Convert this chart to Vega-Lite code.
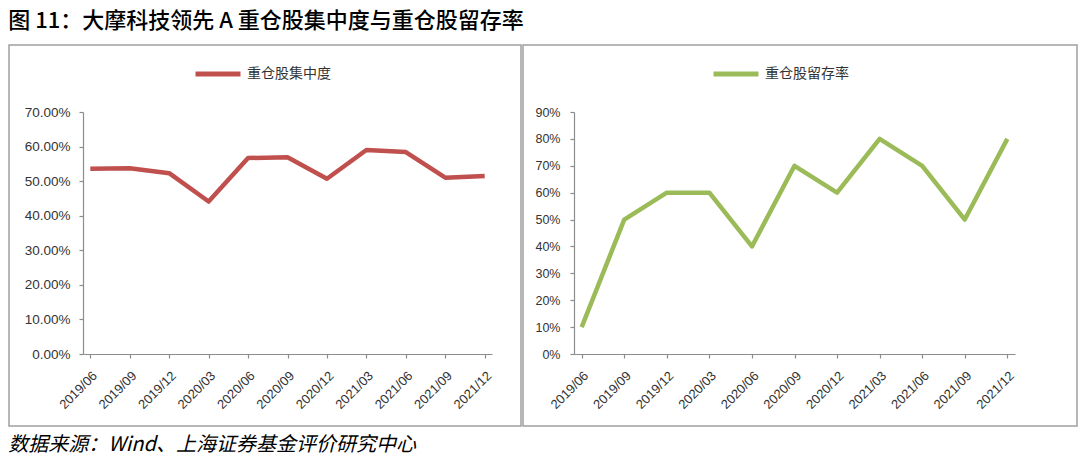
{
  "$schema": "https://vega.github.io/schema/vega-lite/v6.json",
  "padding": {"left": 8, "top": 10, "right": 0, "bottom": 12},
  "background": "#ffffff",
  "datasets": {
    "main": [
      {"date": "2019/06", "conc": 0.536, "ret": 0.10},
      {"date": "2019/09", "conc": 0.537, "ret": 0.50},
      {"date": "2019/12", "conc": 0.523, "ret": 0.60},
      {"date": "2020/03", "conc": 0.441, "ret": 0.60},
      {"date": "2020/06", "conc": 0.567, "ret": 0.40},
      {"date": "2020/09", "conc": 0.569, "ret": 0.70},
      {"date": "2020/12", "conc": 0.507, "ret": 0.60},
      {"date": "2021/03", "conc": 0.590, "ret": 0.80},
      {"date": "2021/06", "conc": 0.584, "ret": 0.70},
      {"date": "2021/09", "conc": 0.510, "ret": 0.50},
      {"date": "2021/12", "conc": 0.515, "ret": 0.80}
    ]
  },
  "title": {
    "text": "图 11：大摩科技领先 A 重仓股集中度与重仓股留存率",
    "anchor": "start",
    "font": "Noto Sans CJK SC",
    "fontSize": 22,
    "fontWeight": 500,
    "color": "#000000",
    "offset": 11
  },
  "vconcat": [
    {
      "title": {
        "text": "数据来源：Wind、上海证券基金评价研究中心",
        "orient": "bottom",
        "anchor": "start",
        "font": "Noto Sans CJK SC",
        "fontSize": 20,
        "fontStyle": "italic",
        "fontWeight": "normal",
        "color": "#000000",
        "offset": 8
      },
      "spacing": 0,
      "resolve": {
        "scale": {"color": "independent", "x": "independent", "y": "independent"},
        "legend": {"color": "independent"}
      },
      "hconcat": [
        {
          "width": 512,
          "height": 381,
          "data": {"name": "main"},
          "mark": {"type": "line", "strokeWidth": 4.5, "strokeJoin": "round"},
          "encoding": {
            "x": {
              "field": "date",
              "type": "ordinal",
              "sort": null,
              "scale": {"type": "point", "range": [74, 483], "padding": 0.185},
              "axis": {"title": null, "offset": -72, "labelAngle": -45, "labelAlign": "right", "labelBaseline": "top", "labelPadding": 11, "labelFontSize": 13}
            },
            "y": {
              "field": "conc",
              "type": "quantitative",
              "scale": {"domain": [0, 0.7], "range": [309, 67], "nice": false, "zero": false},
              "axis": {"title": null, "offset": -74, "values": [0, 0.1, 0.2, 0.3, 0.4, 0.5, 0.6, 0.7], "format": ".2%", "labelPadding": 9, "labelFontSize": 13.5}
            },
            "color": {
              "datum": "重仓股集中度",
              "scale": {"range": ["#C0504D"]},
              "legend": {"orient": "none", "legendX": 184, "legendY": 4, "title": null}
            }
          }
        },
        {
          "width": 554,
          "height": 381,
          "data": {"name": "main"},
          "mark": {"type": "line", "strokeWidth": 4.5, "strokeJoin": "round"},
          "encoding": {
            "x": {
              "field": "date",
              "type": "ordinal",
              "sort": null,
              "scale": {"type": "point", "range": [51, 492], "padding": 0.18},
              "axis": {"title": null, "offset": -72, "labelAngle": -45, "labelAlign": "right", "labelBaseline": "top", "labelPadding": 11, "labelFontSize": 13}
            },
            "y": {
              "field": "ret",
              "type": "quantitative",
              "scale": {"domain": [0, 0.9], "range": [309, 67], "nice": false, "zero": false},
              "axis": {"title": null, "offset": -51, "values": [0, 0.1, 0.2, 0.3, 0.4, 0.5, 0.6, 0.7, 0.8, 0.9], "format": ".0%", "labelPadding": 10, "labelFontSize": 12.5}
            },
            "color": {
              "datum": "重仓股留存率",
              "scale": {"range": ["#9BBB59"]},
              "legend": {"orient": "none", "legendX": 188, "legendY": 4, "title": null}
            }
          }
        }
      ]
    }
  ],
  "config": {
    "view": {"stroke": "#a0a0a0", "strokeWidth": 1.5},
    "axis": {
      "grid": false,
      "domainColor": "#8c8c8c",
      "domainWidth": 1.2,
      "tickColor": "#8c8c8c",
      "tickWidth": 1.2,
      "tickSize": 4,
      "labelColor": "#333333",
      "labelFont": "Liberation Sans",
      "labelFontSize": 12
    },
    "legend": {
      "symbolType": "stroke",
      "symbolSize": 2025,
      "symbolStrokeWidth": 5,
      "labelFont": "Noto Sans CJK SC",
      "labelFontSize": 14,
      "labelColor": "#333333",
      "labelOffset": 4,
      "padding": 0
    }
  }
}
